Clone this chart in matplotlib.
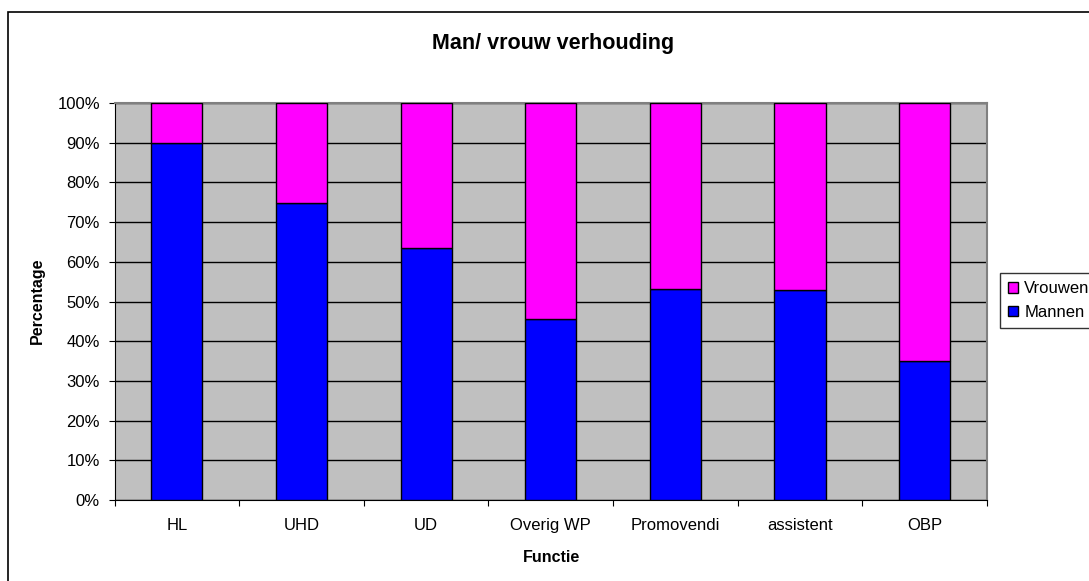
import matplotlib
matplotlib.use("Agg")
import matplotlib.pyplot as plt
from matplotlib.patches import Rectangle
import numpy as np

# data (percentages)
functies = ["HL", "UHD", "UD", "Overig WP", "Promovendi", "assistent", "OBP"]
mannen = [90.0, 74.9, 63.4, 45.6, 53.1, 52.8, 35.0]
vrouwen = [100 - m for m in mannen]

plt.rcParams['font.family'] = ['Liberation Sans', 'DejaVu Sans']

fig = plt.figure(figsize=(10.89, 5.81), dpi=100)
W, H = 1089, 581

# chart frame (cut off on the right and bottom)
fig.patches.append(Rectangle((8 / W, -0.05), 1.1, 1 - 12 / H + 0.05, transform=fig.transFigure,
                             fill=False, edgecolor='black', linewidth=1.2))

ax = fig.add_axes([114.5 / W, 81 / H, (987 - 114.5) / W, (500 - 103) / H])
ax.set_facecolor('#C0C0C0')

x = np.arange(len(functies))
b1 = ax.bar(x, mannen, width=0.41, color='#0000FF', edgecolor='black', linewidth=1, zorder=3, label='Mannen')
b2 = ax.bar(x, vrouwen, width=0.41, bottom=mannen, color='#FF00FF', edgecolor='black', linewidth=1,
            zorder=3, label='Vrouwen')

ax.set_xlim(-0.5, len(functies) - 0.5)
ax.set_ylim(0, 100)
ax.set_yticks(np.arange(0, 101, 10))
ax.set_yticklabels([f"{v}%" for v in range(0, 101, 10)], fontsize=12)
ax.yaxis.grid(True, color='black', linewidth=1, zorder=1)
ax.set_axisbelow(True)

# tick marks between categories, labels in the middle
ax.set_xticks(np.arange(-0.5, len(functies), 1))
ax.set_xticklabels([])
ax.set_xticks(x, minor=True)
ax.set_xticklabels(functies, minor=True, fontsize=12)
ax.tick_params(axis='x', which='major', length=4, color='black', direction='out')
ax.tick_params(axis='x', which='minor', length=0, pad=13)
ax.tick_params(axis='y', length=4, color='black', pad=6.5)

for s in ['top', 'right']:
    ax.spines[s].set_color('#808080')
    ax.spines[s].set_linewidth(1.5)
ax.spines['left'].set_color('black')
ax.spines['bottom'].set_color('black')

fig.text(551 / W, 1 - 557 / H, "Functie", ha='center', va='center', fontsize=11.5, fontweight='bold')
fig.text(37.5 / W, 1 - 301 / H, "Percentage", ha='center', va='center', rotation=90,
         fontsize=11.5, fontweight='bold')
fig.text(553.5 / W, 1 - 43 / H, "Man/ vrouw verhouding", ha='center', va='center',
         fontsize=15.5, fontweight='bold')

leg = fig.legend([b2, b1], ['Vrouwen', 'Mannen'], loc='upper left',
                 bbox_to_anchor=(1000 / W, 1 - 273 / H), fontsize=12, frameon=True,
                 fancybox=False, edgecolor='black', handlelength=0.6, handleheight=0.6,
                 handletextpad=0.35, borderpad=0.5, labelspacing=0.5, borderaxespad=0)
leg.get_frame().set_linewidth(1)

fig.savefig("out.png", dpi=100)
